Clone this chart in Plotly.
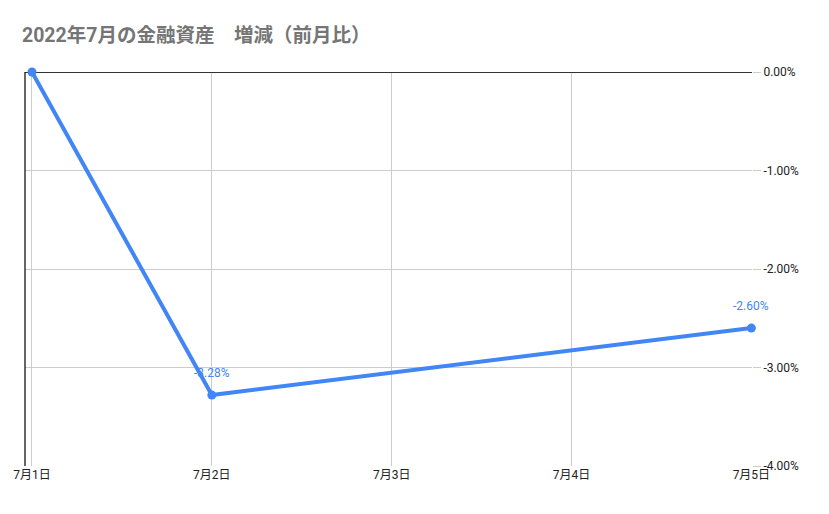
import plotly.graph_objects as go

# data
dates = ["2022-07-01", "2022-07-02", "2022-07-05"]
changes = [0.0, -3.28, -2.60]
point_labels = ["", "-3.28%", "-2.60%"]

tick_dates = ["2022-07-01", "2022-07-02", "2022-07-03", "2022-07-04", "2022-07-05"]
tick_names = ["7月1日", "7月2日", "7月3日", "7月4日", "7月5日"]
y_ticks = [0, -1, -2, -3, -4]
y_names = ["0.00%", "-1.00%", "-2.00%", "-3.00%", "-4.00%"]

blue = "#4285f4"
font = "Roboto, 'Noto Sans CJK JP', Arial, sans-serif"

fig = go.Figure()
fig.add_trace(go.Scatter(
    x=dates,
    y=changes,
    mode="lines+markers",
    line=dict(color=blue, width=4),
    marker=dict(color=blue, size=9),
    cliponaxis=False,
    showlegend=False,
))

# value labels above the points
for d, v, t in zip(dates, changes, point_labels):
    if t:
        fig.add_annotation(x=d, y=v, text=t, showarrow=False,
                           yshift=22, font=dict(color=blue, size=12, family=font))

# left border of the plot area
fig.add_shape(type="line", xref="paper", yref="paper",
              x0=0, x1=0, y0=0, y1=1,
              line=dict(color="#000000", width=1.2))

# page body adds 8px around the figure, so the figure is a bit smaller
fig.update_layout(
    width=821,
    height=506,
    margin=dict(l=17, r=77, t=64, b=48),
    paper_bgcolor="white",
    plot_bgcolor="white",
    font=dict(family=font, color="#222222", size=12),
    title=dict(
        text="<b>2022年7月の金融資産　増減（前月比）</b>",
        x=0.017, xanchor="left",
        y=0.947, yanchor="middle",
        font=dict(size=19.5, color="#757575", family=font),
    ),
    xaxis=dict(
        type="date",
        range=["2022-06-30 23:04", "2022-07-05 00:05"],
        tickvals=tick_dates,
        ticktext=tick_names,
        showgrid=True,
        gridcolor="#cccccc",
        gridwidth=1,
        zeroline=False,
        showline=False,
        ticks="",
        automargin=False,
        tickfont=dict(size=12, color="#222222"),
    ),
    yaxis=dict(
        side="right",
        range=[-4, 0],
        tickvals=y_ticks,
        ticktext=y_names,
        showgrid=True,
        gridcolor="#cccccc",
        gridwidth=1,
        zeroline=True,
        zerolinecolor="#333333",
        zerolinewidth=1.2,
        ticks="outside",
        ticklen=8,
        tickcolor="#cccccc",
        automargin=False,
        tickfont=dict(size=12, color="#222222"),
        showline=False,
    ),
)

fig.write_html("out.html")
